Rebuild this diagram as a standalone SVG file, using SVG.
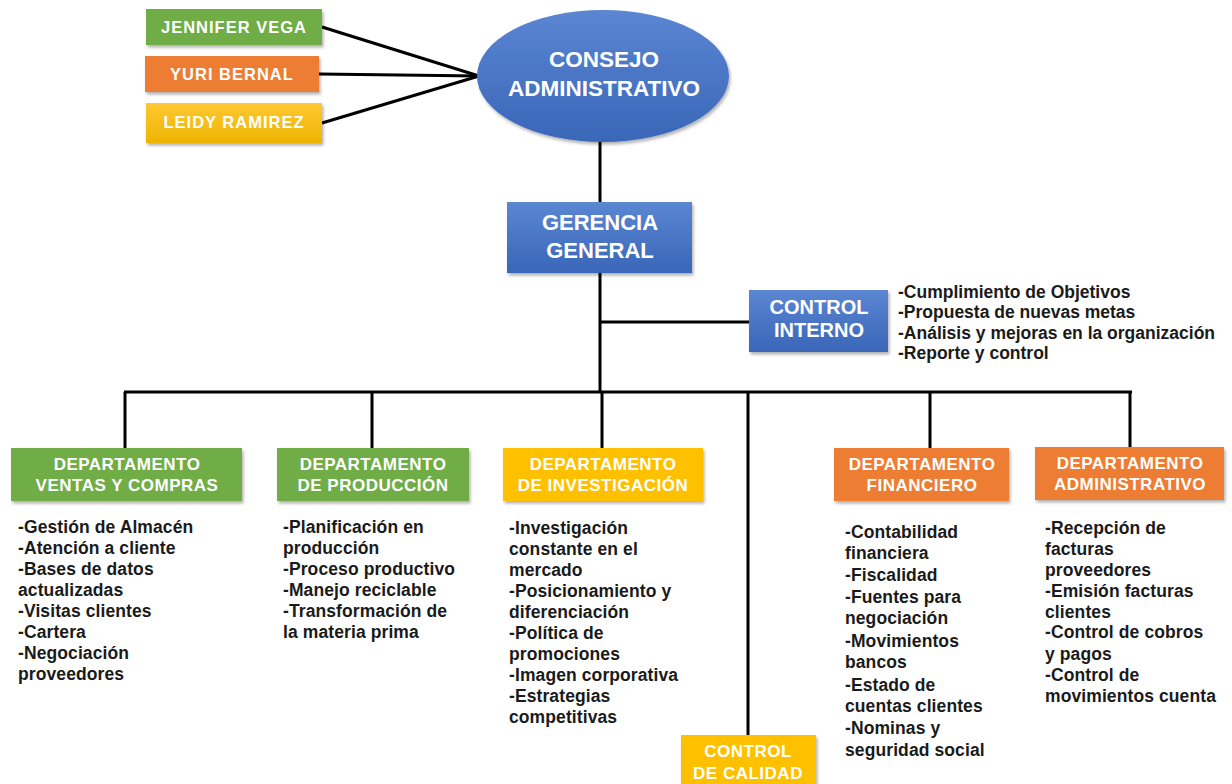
<svg xmlns="http://www.w3.org/2000/svg" width="1232" height="784" viewBox="0 0 1232 784">
<defs>
<linearGradient id="gBlue" x1="0" y1="0" x2="0" y2="1"><stop offset="0" stop-color="#5B86D2"/><stop offset="1" stop-color="#3A66B8"/></linearGradient>
<linearGradient id="gYel" x1="0" y1="0" x2="0" y2="1"><stop offset="0" stop-color="#FFC832"/><stop offset="1" stop-color="#EDB400"/></linearGradient>
<filter id="sh" x="-10%" y="-10%" width="130%" height="140%"><feDropShadow dx="1.5" dy="2.5" stdDeviation="1.5" flood-color="#000" flood-opacity="0.3"/></filter>
</defs>
<style>
.hd{font-family:"Liberation Sans",Arial,sans-serif;font-weight:bold;fill:#fff;text-anchor:middle}
.dh{font-size:17px;letter-spacing:0.5px}
.ls{font-family:"Liberation Sans",Arial,sans-serif;font-weight:bold;font-size:17.5px;fill:#1a1a1a;letter-spacing:0.1px}
.ci{font-family:"Liberation Sans",Arial,sans-serif;font-weight:bold;font-size:17.5px;fill:#1a1a1a}
.ln{stroke:#000;stroke-width:3;fill:none}
.green{fill:#70AD47}
.orange{fill:#ED7D31}
.yellow{fill:#FFC000}
</style>
<rect width="1232" height="784" fill="#fff"/>
<g id="connectors">
<line class="ln" x1="322" y1="27" x2="479" y2="76"/>
<line class="ln" x1="319" y1="74" x2="479" y2="76"/>
<line class="ln" x1="322" y1="123" x2="479" y2="76"/>
<line class="ln" x1="600" y1="140" x2="600" y2="203"/>
<line class="ln" x1="600" y1="272" x2="600" y2="392"/>
<line class="ln" x1="600" y1="322" x2="750" y2="322"/>
<line class="ln" x1="124" y1="392" x2="1132" y2="392"/>
<line class="ln" x1="125" y1="392" x2="125" y2="449"/>
<line class="ln" x1="372" y1="392" x2="372" y2="449"/>
<line class="ln" x1="602" y1="392" x2="602" y2="449"/>
<line class="ln" x1="748" y1="392" x2="748" y2="736"/>
<line class="ln" x1="930" y1="392" x2="930" y2="449"/>
<line class="ln" x1="1130" y1="392" x2="1130" y2="448"/>
</g>
<g id="jennifer">
<rect x="146" y="9" width="176" height="36" class="green" filter="url(#sh)"/>
<text class="hd" x="234" y="33" font-size="16.5" letter-spacing="1">JENNIFER VEGA</text>
</g>
<g id="yuri">
<rect x="145" y="56" width="174" height="36" class="orange" filter="url(#sh)"/>
<text class="hd" x="232" y="80" font-size="16.5" letter-spacing="1">YURI BERNAL</text>
</g>
<g id="leidy">
<rect x="146" y="103" width="176" height="40" fill="url(#gYel)" filter="url(#sh)"/>
<text class="hd" x="234" y="128" font-size="16.5" letter-spacing="1">LEIDY RAMIREZ</text>
</g>
<g id="consejo">
<ellipse cx="603" cy="76" rx="126" ry="66" fill="url(#gBlue)" filter="url(#sh)"/>
<text class="hd" x="604" y="67" font-size="22.5">CONSEJO</text>
<text class="hd" x="604" y="96" font-size="22.5">ADMINISTRATIVO</text>
</g>
<g id="gerencia">
<rect x="507" y="202" width="185" height="71" fill="url(#gBlue)" filter="url(#sh)"/>
<text class="hd" x="600" y="230" font-size="22">GERENCIA</text>
<text class="hd" x="600" y="258" font-size="22">GENERAL</text>
</g>
<g id="control-interno">
<rect x="749" y="290" width="139" height="62" fill="url(#gBlue)" filter="url(#sh)"/>
<text class="hd" x="819" y="314" font-size="20">CONTROL</text>
<text class="hd" x="819" y="337" font-size="20">INTERNO</text>
<text class="ci" x="898" y="298">-Cumplimiento de Objetivos</text>
<text class="ci" x="898" y="318">-Propuesta de nuevas metas</text>
<text class="ci" x="898" y="339">-Análisis y mejoras en la organización</text>
<text class="ci" x="898" y="359">-Reporte y control</text>
</g>
<g id="ventas">
<rect x="11" y="448" width="231" height="53" class="green" filter="url(#sh)"/>
<text class="hd dh" x="127" y="470">DEPARTAMENTO</text>
<text class="hd dh" x="127" y="491">VENTAS Y COMPRAS</text>
<text class="ls" x="18" y="533">-Gestión de Almacén</text>
<text class="ls" x="18" y="554">-Atención a cliente</text>
<text class="ls" x="18" y="575">-Bases de datos</text>
<text class="ls" x="18" y="596">actualizadas</text>
<text class="ls" x="18" y="617">-Visitas clientes</text>
<text class="ls" x="18" y="638">-Cartera</text>
<text class="ls" x="18" y="659">-Negociación</text>
<text class="ls" x="18" y="680">proveedores</text>
</g>
<g id="produccion">
<rect x="277" y="448" width="192" height="53" class="green" filter="url(#sh)"/>
<text class="hd dh" x="373" y="470">DEPARTAMENTO</text>
<text class="hd dh" x="373" y="491">DE PRODUCCIÓN</text>
<text class="ls" x="283" y="533">-Planificación en</text>
<text class="ls" x="283" y="554">producción</text>
<text class="ls" x="283" y="575">-Proceso productivo</text>
<text class="ls" x="283" y="596">-Manejo reciclable</text>
<text class="ls" x="283" y="617">-Transformación de</text>
<text class="ls" x="283" y="638">la materia prima</text>
</g>
<g id="investigacion">
<rect x="503" y="448" width="200" height="53" class="yellow" filter="url(#sh)"/>
<text class="hd dh" x="603" y="470">DEPARTAMENTO</text>
<text class="hd dh" x="603" y="491">DE INVESTIGACIÓN</text>
<text class="ls" x="509" y="534">-Investigación</text>
<text class="ls" x="509" y="555">constante en el</text>
<text class="ls" x="509" y="576">mercado</text>
<text class="ls" x="509" y="597">-Posicionamiento y</text>
<text class="ls" x="509" y="618">diferenciación</text>
<text class="ls" x="509" y="639">-Política de</text>
<text class="ls" x="509" y="660">promociones</text>
<text class="ls" x="509" y="681">-Imagen corporativa</text>
<text class="ls" x="509" y="702">-Estrategias</text>
<text class="ls" x="509" y="723">competitivas</text>
</g>
<g id="calidad">
<rect x="681" y="735" width="135" height="55" class="yellow" filter="url(#sh)"/>
<text class="hd dh" x="748" y="757">CONTROL</text>
<text class="hd dh" x="748" y="779">DE CALIDAD</text>
</g>
<g id="financiero">
<rect x="834" y="448" width="175" height="53" class="orange" filter="url(#sh)"/>
<text class="hd dh" x="922" y="470">DEPARTAMENTO</text>
<text class="hd dh" x="922" y="491">FINANCIERO</text>
<text class="ls" x="845" y="538">-Contabilidad</text>
<text class="ls" x="845" y="559">financiera</text>
<text class="ls" x="845" y="581">-Fiscalidad</text>
<text class="ls" x="845" y="603">-Fuentes para</text>
<text class="ls" x="845" y="624">negociación</text>
<text class="ls" x="845" y="647">-Movimientos</text>
<text class="ls" x="845" y="668">bancos</text>
<text class="ls" x="845" y="691">-Estado de</text>
<text class="ls" x="845" y="712">cuentas clientes</text>
<text class="ls" x="845" y="734">-Nominas y</text>
<text class="ls" x="845" y="756">seguridad social</text>
</g>
<g id="administrativo">
<rect x="1035" y="447" width="189" height="53" class="orange" filter="url(#sh)"/>
<text class="hd dh" x="1130" y="469">DEPARTAMENTO</text>
<text class="hd dh" x="1130" y="490">ADMINISTRATIVO</text>
<text class="ls" x="1045" y="534">-Recepción de</text>
<text class="ls" x="1045" y="555">facturas</text>
<text class="ls" x="1045" y="576">proveedores</text>
<text class="ls" x="1045" y="597">-Emisión facturas</text>
<text class="ls" x="1045" y="618">clientes</text>
<text class="ls" x="1045" y="638">-Control de cobros</text>
<text class="ls" x="1045" y="660">y pagos</text>
<text class="ls" x="1045" y="681">-Control de</text>
<text class="ls" x="1045" y="702">movimientos cuenta</text>
</g>
</svg>
